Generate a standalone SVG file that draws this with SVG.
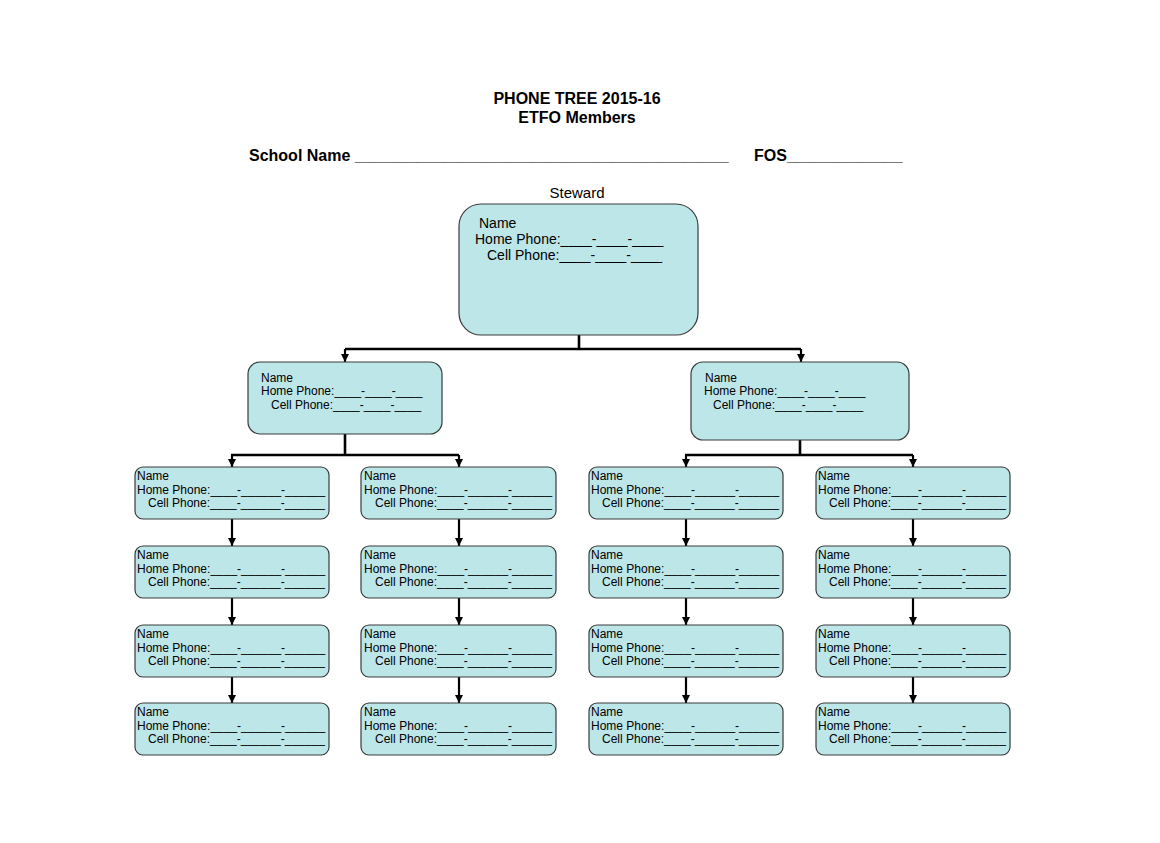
<svg xmlns="http://www.w3.org/2000/svg" width="1160" height="843" viewBox="0 0 1160 843">
<style>
  .box { fill: #BDE6E8; stroke: #3a3a3a; stroke-width: 1.2; }
  .t { font-family: "Liberation Sans", Arial, sans-serif; fill: #000; }
  .s12 { font-size: 12px; }
  .s14 { font-size: 14px; }
  .hdr { font-size: 16px; font-weight: bold; }
  .conn { stroke: #000; stroke-width: 2.6; fill: none; }
  .arr { stroke: #000; stroke-width: 2.2; fill: none; marker-end: url(#ah); }
</style>
<defs>
  <marker id="ah" markerUnits="userSpaceOnUse" markerWidth="10" markerHeight="10" viewBox="0 0 10 10" refX="9" refY="5" orient="auto">
    <path d="M1 1 L9 5 L1 9 Z" fill="#000"/>
  </marker>
</defs>
<rect width="1160" height="843" fill="#fff"/>

<g id="header">
  <text class="t hdr" x="577" y="104" text-anchor="middle">PHONE TREE 2015-16</text>
  <text class="t hdr" x="577" y="123" text-anchor="middle">ETFO Members</text>
  <text class="t hdr" x="249" y="161">School Name __________________________________________</text>
  <text class="t hdr" x="754" y="161">FOS_____________</text>
</g>

<g id="connectors">
  <path class="conn" d="M579 335 V349 M345 349 H801"/>
  <path class="arr" d="M345 349 V362"/>
  <path class="arr" d="M801 349 V362"/>
  <path class="conn" d="M345 434 V455 M231 455 H459"/>
  <path class="arr" d="M232 455 V467"/>
  <path class="arr" d="M459 455 V467"/>
  <path class="conn" d="M800 440 V455 M685 455 H913"/>
  <path class="arr" d="M686 455 V467"/>
  <path class="arr" d="M913 455 V467"/>
  <path class="arr" d="M232 519 V546"/>
  <path class="arr" d="M232 598 V625"/>
  <path class="arr" d="M232 677 V703"/>
  <path class="arr" d="M459 519 V546"/>
  <path class="arr" d="M459 598 V625"/>
  <path class="arr" d="M459 677 V703"/>
  <path class="arr" d="M686 519 V546"/>
  <path class="arr" d="M686 598 V625"/>
  <path class="arr" d="M686 677 V703"/>
  <path class="arr" d="M913 519 V546"/>
  <path class="arr" d="M913 598 V625"/>
  <path class="arr" d="M913 677 V703"/>
</g>

<g id="steward">
  <text class="t" x="577" y="198" text-anchor="middle" font-size="15">Steward</text>
  <rect class="box" x="459" y="204" width="239" height="131" rx="22"/>
  <text class="t s14" x="479" y="228">Name</text>
  <text class="t s14" x="475" y="244">Home Phone:____-____-____</text>
  <text class="t s14" x="487" y="260">Cell Phone:____-____-____</text>
</g>

<g id="lead-left">
  <rect class="box" x="248" y="362" width="194" height="72" rx="12"/>
  <text class="t s12" x="261" y="382">Name</text>
  <text class="t s12" x="261" y="395">Home Phone:____-____-____</text>
  <text class="t s12" x="271" y="409">Cell Phone:____-____-____</text>
</g>

<g id="lead-right">
  <rect class="box" x="691" y="362" width="218" height="78" rx="12"/>
  <text class="t s12" x="705" y="382">Name</text>
  <text class="t s12" x="704" y="395">Home Phone:____-____-____</text>
  <text class="t s12" x="713" y="409">Cell Phone:____-____-____</text>
</g>

<g id="m-1-1"><rect class="box" x="135" y="467" width="194" height="52" rx="8"/><text class="t s12" x="137" y="480">Name</text><text class="t s12" x="137" y="494">Home Phone:____-______-______</text><text class="t s12" x="148" y="507">Cell Phone:____-______-______</text></g>
<g id="m-1-2"><rect class="box" x="135" y="546" width="194" height="52" rx="8"/><text class="t s12" x="137" y="559">Name</text><text class="t s12" x="137" y="573">Home Phone:____-______-______</text><text class="t s12" x="148" y="586">Cell Phone:____-______-______</text></g>
<g id="m-1-3"><rect class="box" x="135" y="625" width="194" height="52" rx="8"/><text class="t s12" x="137" y="638">Name</text><text class="t s12" x="137" y="652">Home Phone:____-______-______</text><text class="t s12" x="148" y="665">Cell Phone:____-______-______</text></g>
<g id="m-1-4"><rect class="box" x="135" y="703" width="194" height="52" rx="8"/><text class="t s12" x="137" y="716">Name</text><text class="t s12" x="137" y="730">Home Phone:____-______-______</text><text class="t s12" x="148" y="743">Cell Phone:____-______-______</text></g>

<g id="m-2-1"><rect class="box" x="361" y="467" width="195" height="52" rx="8"/><text class="t s12" x="364" y="480">Name</text><text class="t s12" x="364" y="494">Home Phone:____-______-______</text><text class="t s12" x="375" y="507">Cell Phone:____-______-______</text></g>
<g id="m-2-2"><rect class="box" x="361" y="546" width="195" height="52" rx="8"/><text class="t s12" x="364" y="559">Name</text><text class="t s12" x="364" y="573">Home Phone:____-______-______</text><text class="t s12" x="375" y="586">Cell Phone:____-______-______</text></g>
<g id="m-2-3"><rect class="box" x="361" y="625" width="195" height="52" rx="8"/><text class="t s12" x="364" y="638">Name</text><text class="t s12" x="364" y="652">Home Phone:____-______-______</text><text class="t s12" x="375" y="665">Cell Phone:____-______-______</text></g>
<g id="m-2-4"><rect class="box" x="361" y="703" width="195" height="52" rx="8"/><text class="t s12" x="364" y="716">Name</text><text class="t s12" x="364" y="730">Home Phone:____-______-______</text><text class="t s12" x="375" y="743">Cell Phone:____-______-______</text></g>

<g id="m-3-1"><rect class="box" x="589" y="467" width="194" height="52" rx="8"/><text class="t s12" x="591" y="480">Name</text><text class="t s12" x="591" y="494">Home Phone:____-______-______</text><text class="t s12" x="602" y="507">Cell Phone:____-______-______</text></g>
<g id="m-3-2"><rect class="box" x="589" y="546" width="194" height="52" rx="8"/><text class="t s12" x="591" y="559">Name</text><text class="t s12" x="591" y="573">Home Phone:____-______-______</text><text class="t s12" x="602" y="586">Cell Phone:____-______-______</text></g>
<g id="m-3-3"><rect class="box" x="589" y="625" width="194" height="52" rx="8"/><text class="t s12" x="591" y="638">Name</text><text class="t s12" x="591" y="652">Home Phone:____-______-______</text><text class="t s12" x="602" y="665">Cell Phone:____-______-______</text></g>
<g id="m-3-4"><rect class="box" x="589" y="703" width="194" height="52" rx="8"/><text class="t s12" x="591" y="716">Name</text><text class="t s12" x="591" y="730">Home Phone:____-______-______</text><text class="t s12" x="602" y="743">Cell Phone:____-______-______</text></g>

<g id="m-4-1"><rect class="box" x="816" y="467" width="194" height="52" rx="8"/><text class="t s12" x="818" y="480">Name</text><text class="t s12" x="818" y="494">Home Phone:____-______-______</text><text class="t s12" x="829" y="507">Cell Phone:____-______-______</text></g>
<g id="m-4-2"><rect class="box" x="816" y="546" width="194" height="52" rx="8"/><text class="t s12" x="818" y="559">Name</text><text class="t s12" x="818" y="573">Home Phone:____-______-______</text><text class="t s12" x="829" y="586">Cell Phone:____-______-______</text></g>
<g id="m-4-3"><rect class="box" x="816" y="625" width="194" height="52" rx="8"/><text class="t s12" x="818" y="638">Name</text><text class="t s12" x="818" y="652">Home Phone:____-______-______</text><text class="t s12" x="829" y="665">Cell Phone:____-______-______</text></g>
<g id="m-4-4"><rect class="box" x="816" y="703" width="194" height="52" rx="8"/><text class="t s12" x="818" y="716">Name</text><text class="t s12" x="818" y="730">Home Phone:____-______-______</text><text class="t s12" x="829" y="743">Cell Phone:____-______-______</text></g>
</svg>
